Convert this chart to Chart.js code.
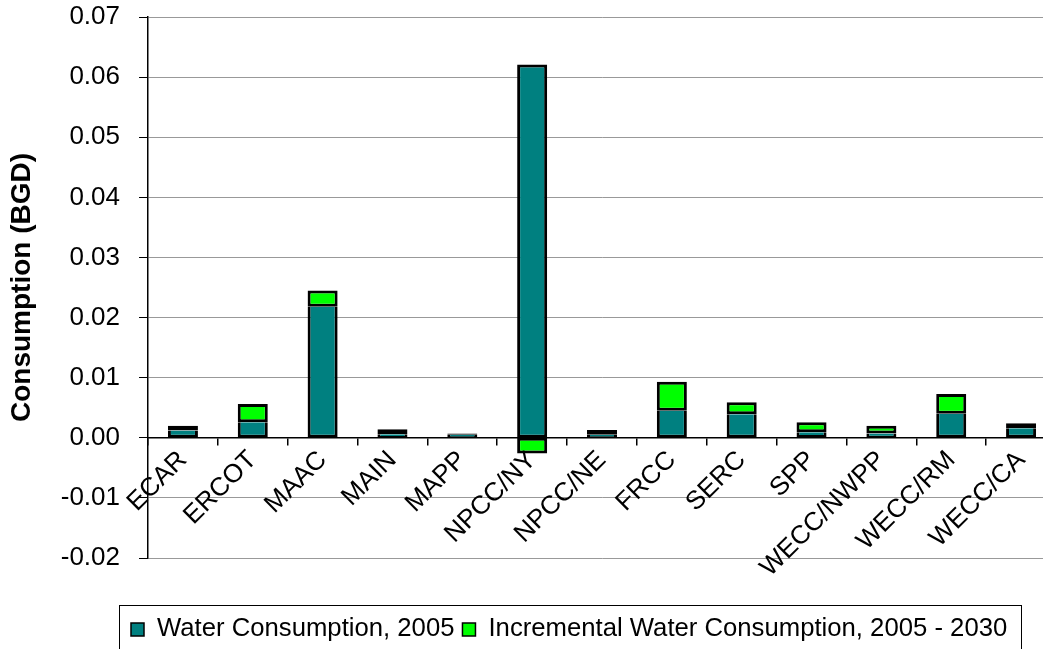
<!DOCTYPE html>
<html>
<head>
<meta charset="utf-8">
<script src="https://cdn.jsdelivr.net/npm/chart.js@4"></script>
<style>
  html, body { margin: 0; padding: 0; background: #fff; overflow: hidden; }
  #wrap { width: 1060px; height: 649px; }
</style>
</head>
<body>
<div id="wrap"><canvas id="grafico" width="1060" height="649"></canvas></div>
<script>
// regiones
const regiones = ["ECAR", "ERCOT", "MAAC", "MAIN", "MAPP", "NPCC/NY", "NPCC/NE", "FRCC", "SERC", "SPP", "WECC/NWPP", "WECC/RM", "WECC/CA"];

// consumo 2005 (BGD)
const consumo2005 = [0.0012, 0.0026, 0.0218, 0.0006, 0.0005, 0.0621, 0.0005, 0.0045, 0.0039, 0.0009, 0.0007, 0.0040, 0.0016];

// incremento 2005 - 2030 (BGD)
const incremental = [0.0008, 0.0030, 0.0027, 0.0008, 0.0002, -0.0026, 0.0008, 0.0048, 0.0020, 0.0017, 0.0013, 0.0033, 0.0008];

const series = ["Water Consumption, 2005", "Incremental Water Consumption, 2005 - 2030"];
const colores = ["#008080", "#00ff00"];

const fuente = '"Liberation Sans", Arial, sans-serif';
Chart.defaults.font.family = fuente;
Chart.defaults.color = "#000";

// leyenda con borde, como la del original
const leyenda = {
  id: "leyenda",
  afterDraw(chart) {
    const ctx = chart.ctx;
    ctx.save();
    ctx.font = "25.7px " + fuente;
    ctx.textBaseline = "alphabetic";
    ctx.strokeStyle = "#000";
    ctx.lineWidth = 1;
    ctx.strokeRect(119.5, 605.5, 902, 70);
    let x = 131;
    series.forEach((nombre, i) => {
      ctx.fillStyle = colores[i];
      ctx.fillRect(x, 623, 13, 13);
      ctx.lineWidth = 1.5;
      ctx.strokeRect(x, 623, 13, 13);
      ctx.fillStyle = "#000";
      ctx.fillText(nombre, x + 26, 636);
      x += 26 + ctx.measureText(nombre).width + 8;
    });
    ctx.restore();
  }
};

new Chart(document.getElementById("grafico"), {
  type: "bar",
  data: {
    labels: regiones,
    datasets: [
      {
        label: series[0], data: consumo2005, backgroundColor: colores[0],
        // la union con la barra verde la pone el borde de la verde
        borderWidth: (c) => ({ top: incremental[c.dataIndex] > 0 ? 0 : 3, bottom: 3, left: 3, right: 3 })
      },
      {
        label: series[1], data: incremental, backgroundColor: colores[1],
        borderWidth: 3
      }
    ]
  },
  options: {
    responsive: false,
    animation: false,
    layout: { padding: { top: 0, right: 4, bottom: 91, left: 0 } },
    datasets: {
      bar: {
        borderColor: "#000",
        borderSkipped: false,
        barPercentage: 0.43,
        categoryPercentage: 1
      }
    },
    plugins: {
      legend: { display: false },
      tooltip: { enabled: false }
    },
    scales: {
      x: {
        stacked: true,
        position: { y: 0 },
        afterFit: (s) => { s.height = 0; },
        border: { color: "#000", width: 1.5 },
        grid: { offset: true, drawOnChartArea: false, tickColor: "#000", tickLength: 7, lineWidth: 1.5 },
        ticks: {
          autoSkip: false,
          minRotation: 45,
          maxRotation: 45,
          padding: 0,
          font: { size: 26 }
        }
      },
      y: {
        stacked: true,
        min: -0.02,
        max: 0.07,
        afterFit: (s) => { s.width = 148; s.paddingTop = 17; },
        border: { color: "#000", width: 1.5 },
        grid: { color: "#999", tickColor: "#000", tickLength: 9 },
        ticks: {
          stepSize: 0.01,
          padding: 19,
          font: { size: 26 },
          callback: (v) => (Math.abs(v) < 1e-9 ? 0 : v).toFixed(2)
        },
        title: {
          display: true,
          text: "Consumption (BGD)",
          font: { size: 28, weight: "bold" },
          padding: { top: 5, bottom: 0 }
        }
      }
    }
  },
  plugins: [leyenda]
});
</script>
</body>
</html>
